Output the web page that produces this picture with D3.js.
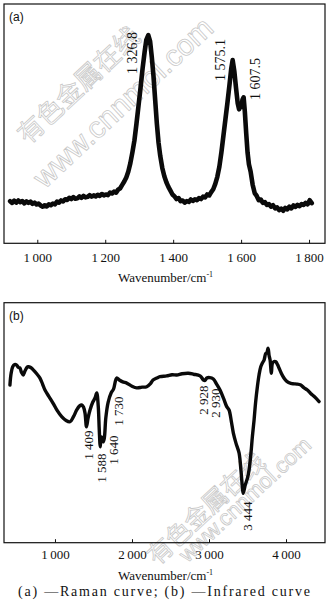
<!DOCTYPE html>
<html><head><meta charset="utf-8">
<script src="https://cdn.jsdelivr.net/npm/d3@7"></script>
<style>body{margin:0;background:#fff}svg{display:block}</style>
</head><body>
<script>
// ---------- DATA ----------
const ramanX = [920,926,932,938,944,950,956,962,968,974,980,986,992,998,1004,1010,1016,1022,1028,1034,1040,1046,1052,1058,1064,1070,1076,1082,1088,1094,1100,1106,1112,1118,1124,1130,1136,1142,1148,1154,1160,1166,1172,1178,1184,1190,1196,1202,1208,1214,1220,1226,1232,1238,1244,1250,1256,1262,1268,1274,1280,1286,1292,1298,1304,1310,1316,1321,1326.8,1332,1337,1342,1347,1352,1357,1362,1368,1374,1380,1386,1392,1398,1404,1410,1416,1422,1428,1434,1440,1446,1452,1458,1464,1470,1476,1482,1488,1494,1500,1506,1512,1518,1524,1530,1536,1542,1548,1554,1560,1566,1571,1575.1,1580,1585,1590,1594,1598,1601,1604,1607.5,1611,1615,1619,1623,1628,1634,1640,1646,1652,1658,1664,1670,1676,1682,1688,1694,1700,1706,1712,1718,1724,1730,1736,1742,1748,1754,1760,1766,1772,1778,1784,1790,1796,1802,1808];
const ramanY = [17.6,16.9,17.8,17.0,17.9,17.2,17.6,16.7,17.5,16.9,17.4,16.5,17.0,16.2,16.6,15.8,15.3,15.9,15.4,16.3,15.9,16.6,16.3,17.4,17.0,17.9,17.5,18.4,18.1,19.0,18.5,19.3,18.6,18.8,19.6,19.0,19.8,19.2,19.4,20.1,19.5,20.0,19.6,20.3,19.8,20.6,20.0,20.4,20.1,21.2,20.8,21.6,21.2,22.4,23.0,24.4,25.8,27.5,30.0,33.5,38.0,43.0,50.0,57.5,65.0,73.0,80.0,85.0,87.0,84.5,78.0,70.0,60.0,50.0,42.0,36.5,31.5,28.0,25.5,23.6,22.0,20.4,19.6,18.5,18.9,17.6,17.9,17.0,17.6,17.3,18.3,17.7,18.4,18.0,18.9,18.5,19.5,19.2,20.4,20.0,21.4,22.6,24.8,27.8,32.0,38.0,45.0,52.0,59.0,66.5,73.0,76.6,72.0,65.0,58.5,56.0,58.0,57.0,60.0,61.0,55.0,46.0,38.0,33.0,30.0,24.5,21.0,19.8,18.0,18.3,16.9,17.2,16.0,16.4,15.3,15.9,14.6,15.0,13.9,14.5,13.6,14.8,14.2,15.3,14.6,15.8,15.2,16.1,15.5,16.4,16.0,16.9,16.3,18.0,16.8];
const ramanTicks = [1000,1200,1400,1600,1800];
const ramanPeakLabels = ["1 326.8","1 575.1","1 607.5"];
const ramanPeakPos = [1326.8,1575.1,1607.5];

const irX = [415,430,451,475,503,525,545,565,588,610,635,653,685,718,760,805,840,870,920,974,1030,1087,1140,1195,1240,1282,1320,1347,1370,1390,1409,1430,1455,1490,1520,1542,1562,1575,1588,1600,1615,1625,1640,1660,1690,1730,1760,1801,1835,1880,1931,2000,2061,2130,2191,2240,2273,2321,2364,2450,2520,2581,2650,2732,2800,2884,2928,2949,2971,3010,3056,3100,3143,3190,3230,3260,3290,3316,3350,3390,3415,3433,3444,3470,3500,3520,3545,3563,3585,3605,3628,3650,3672,3695,3715,3737,3750,3767,3780,3793,3810,3823,3845,3867,3890,3910,3940,3975,4010,4062,4100,4140,4192,4230,4277,4320,4370,4429];
const irY = [65.7,70.5,73.3,74.2,74.0,73.0,72.8,71.0,69.9,71.5,73.0,73.3,73.0,72.0,70.5,68.6,66.0,63.6,61.0,58.2,55.0,52.5,51.0,50.4,52.5,55.3,57.0,57.4,56.5,54.0,48.3,52.0,55.3,58.5,60.3,62.4,56.7,47.0,40.0,44.0,43.5,42.0,43.5,52.0,58.5,62.5,64.0,68.6,67.8,67.0,66.5,65.2,64.5,64.8,65.0,66.3,67.8,68.6,69.2,69.5,70.0,69.9,70.4,70.6,70.2,69.5,67.8,67.6,68.6,68.8,68.2,66.0,63.6,60.0,56.7,55.3,50.5,45.7,41.5,37.4,30.0,23.3,20.6,24.0,27.0,30.3,37.5,44.2,51.1,58.5,65.0,70.0,73.3,75.0,76.1,78.9,79.0,81.0,78.0,76.1,70.6,74.7,75.5,75.4,74.2,72.7,70.5,68.5,67.2,66.4,66.2,66.1,65.7,64.6,63.6,62.2,60.8,58.8];
const irTicks = [1000,2000,3000,4000];
const irPeakLabels = ["1 409","1 588","1 640","1 730","2 928","2 930","3 444"];
const irPeakPos = [1409,1588,1640,1730,2928,2930,3444];

// ---------- LAYOUT ----------
const W = 328, H = 604;
const svg = d3.select("body").append("svg").attr("width", W).attr("height", H);
const serif = "'Liberation Serif','Times New Roman',serif";
const sans = "'Liberation Sans',Arial,sans-serif";
const fmt = d => { const s = String(d); return s.length > 3 ? s.slice(0, s.length-3) + "\u2009" + s.slice(-3) : s; };

// watermark
function watermark(cx1, cy1, cx2, cy2, s1, s2) {
  const g = svg.append("g").attr("fill", "none").attr("stroke", "#c8c8c8").attr("stroke-width", 0.8);
  g.append("text").attr("transform", `translate(${cx1},${cy1}) rotate(-43)`)
    .attr("text-anchor", "middle").attr("font-family", "'Noto Sans CJK SC',sans-serif")
    .attr("font-size", s1).text("有色金属在线");
  g.append("text").attr("transform", `translate(${cx2},${cy2}) rotate(-43)`)
    .attr("text-anchor", "middle").attr("font-family", sans)
    .attr("font-size", s2).text("www.cnnmol.com");
}
watermark(85, 92, 130, 110, 26, 30);
watermark(212, 515, 250, 505, 25, 22);

function panel(cfg) {
  const x = d3.scaleLinear().domain(cfg.domain).range([cfg.left, cfg.right]);
  const y = d3.scaleLinear().domain([0, 100]).range([cfg.bottom, cfg.top]);
  const g = svg.append("g");
  g.append("rect").attr("x", cfg.left).attr("y", cfg.top)
    .attr("width", cfg.right - cfg.left).attr("height", cfg.bottom - cfg.top)
    .attr("fill", "none").attr("stroke", "#111").attr("stroke-width", 1.2);
  const ax = g.append("g").attr("transform", `translate(0,${cfg.bottom})`)
    .call(d3.axisBottom(x).tickValues(cfg.ticks).tickSize(-3.5).tickPadding(cfg.pad).tickFormat(fmt));
  ax.select(".domain").remove();
  ax.selectAll(".tick line").attr("stroke", "#111").attr("stroke-width", 1);
  ax.selectAll("text").attr("font-family", serif).attr("font-size", 13).attr("fill", "#111")
    .attr("dy", "0.71em").attr("y", cfg.pad);
  const pts = cfg.xs.map((v, i) => [v, cfg.ys[i]]);
  g.append("path").datum(pts)
    .attr("d", d3.line().x(d => x(d[0])).y(d => y(d[1])).curve(cfg.curve))
    .attr("fill", "none").attr("stroke", "#0a0a0a").attr("stroke-width", cfg.sw)
    .attr("stroke-linejoin", "round").attr("stroke-linecap", "round");
  g.append("text").attr("x", cfg.left + 5).attr("y", cfg.top + 17)
    .attr("font-family", sans).attr("font-size", 12).attr("fill", "#111").text(cfg.letter);
  const t = g.append("text").attr("x", (cfg.left + cfg.right) / 2 + 1).attr("y", cfg.titleY)
    .attr("text-anchor", "middle").attr("font-family", serif).attr("font-size", 13).attr("fill", "#111");
  t.append("tspan").text("Wavenumber/cm");
  t.append("tspan").attr("dy", -5).attr("font-size", 8).text("-1");
  cfg.labels.forEach((lab, i) => {
    const px = x(cfg.labelPos[i]) + cfg.labelDx[i];
    g.append("text").attr("transform", `translate(${px},${cfg.labelY[i]}) rotate(-90)`)
      .attr("text-anchor", "middle").attr("dy", "0.35em")
      .attr("font-family", serif).attr("font-size", cfg.labelSize).attr("fill", "#111").text(lab);
  });
  return {x, y};
}

panel({
  domain: [902, 1847], left: 4, right: 325, top: 4, bottom: 243.3, pad: 9,
  ticks: ramanTicks, xs: ramanX, ys: ramanY, curve: d3.curveLinear, sw: 4.6,
  letter: "(a)", titleY: 282,
  labels: ramanPeakLabels, labelPos: ramanPeakPos,
  labelDx: [-16.5, -12.5, 11.5], labelY: [53, 60, 79], labelSize: 14
});

panel({
  domain: [338, 4506], left: 4, right: 325, top: 302.7, bottom: 542.7, pad: 7,
  ticks: irTicks, xs: irX, ys: irY, curve: d3.curveCatmullRom, sw: 3.4,
  letter: "(b)", titleY: 580,
  labels: irPeakLabels, labelPos: irPeakPos,
  labelDx: [2, 1, 9, 7, 0, 11.5, 4.5], labelY: [445, 468, 450, 411, 400, 403, 516], labelSize: 13
});

svg.append("text").attr("x", 164).attr("y", 596).attr("text-anchor", "middle")
  .attr("font-family", serif).attr("font-size", 14).attr("fill", "#111")
  .attr("textLength", 292).attr("lengthAdjust", "spacing")
  .text("(a) \u2014Raman curve; (b) \u2014Infrared curve");
</script>
</body></html>
